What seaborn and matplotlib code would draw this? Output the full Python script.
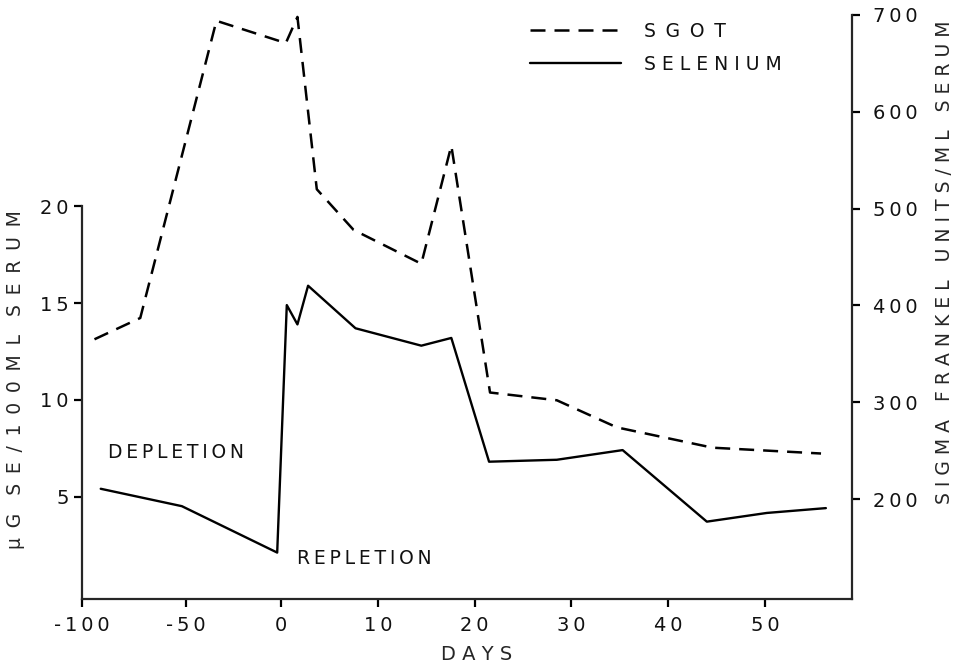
import numpy as np
import matplotlib
matplotlib.use("Agg")
import matplotlib.pyplot as plt
import seaborn as sns
from matplotlib.lines import Line2D

# Data
sel_days = [-91, -52, -2, 0.6, 1.7, 2.8, 7.7, 14.5, 17.6, 21.5, 28.5, 35.3, 44.0, 50.2, 56.3]
sel_vals = [5.4, 4.5, 2.1, 14.9, 13.9, 15.9, 13.7, 12.8, 13.2, 6.8, 6.9, 7.4, 3.7, 4.15, 4.4]

sgot_days = [-94, -72, -34, 0.5, 1.7, 3.7, 7.5, 14.5, 17.6, 21.6, 28.5, 34.7, 44.6, 50.2, 55.8]
sgot_vals = [365, 387, 694, 671, 698, 520, 478, 443, 565, 310, 302, 274, 253, 250, 247]

x_ticks = [-100, -50, 0, 10, 20, 30, 40, 50]
left_ticks = [5, 10, 15, 20]
right_ticks = [200, 300, 400, 500, 600, 700]

THIN = "\u2009"


def spaced(text, gap=THIN, word_gap="  "):
    # old hand-lettered look: wide letter spacing
    words = text.split(" ")
    return word_gap.join(gap.join(w) for w in words)


sns.set_style("ticks")
plt.rcParams['font.family'] = ['DejaVu Sans']
plt.rcParams['text.color'] = '#111111'

# depletion period is drawn compressed on the x axis
knot_days = [-1000, -100, -50, 0, 1000]
knot_pos = [-20.56 - 900 * (10.75 / 50), -20.56, -9.81, 0, 1000]


def fwd(x):
    return np.interp(x, knot_days, knot_pos)


def inv(u):
    return np.interp(u, knot_pos, knot_days)


fig = plt.figure(figsize=(9.6, 6.63), dpi=100)
ax = fig.add_axes([82 / 960, 64 / 663, 770 / 960, 584 / 663])
ax2 = ax.twinx()

sns.lineplot(x=sel_days, y=sel_vals, ax=ax, color='black', linewidth=1.7, sort=False)
sns.lineplot(x=sgot_days, y=sgot_vals, ax=ax2, color='black', linewidth=1.8,
             linestyle=(0, (6, 3.6)), sort=False)

ax.set_xscale('function', functions=(fwd, inv))
ax.set_xlim(-100, 59)
ax.set_ylim(-0.3, 29.9)
ax2.set_ylim(96.7, 700)

ax.set_xticks(x_ticks)
ax.set_xticklabels([spaced(str(t)) for t in x_ticks])
ax.set_yticks(left_ticks)
ax.set_yticklabels([spaced(str(t)) for t in left_ticks])
ax2.set_yticks(right_ticks)
ax2.set_yticklabels([spaced(str(t)) for t in right_ticks])

for a in (ax, ax2):
    a.tick_params(length=6, width=1.6, labelsize=14, colors='black', labelcolor='#111111')
    a.spines['top'].set_visible(False)
    for s in a.spines.values():
        s.set_linewidth(1.6)
ax.tick_params(axis='x', pad=6)
ax2.tick_params(axis='y', pad=9)
ax.spines['right'].set_visible(False)
ax2.spines['left'].set_visible(False)
ax2.spines['bottom'].set_visible(False)
ax.spines['left'].set_bounds(-0.3, 20)

ax.set_xlabel(spaced("DAYS", " "), fontsize=14)
ax.xaxis.set_label_coords(0.513, -0.078)
ax.set_ylabel(spaced("µG SE/100ML SERUM", " " + THIN, "   "), fontsize=13.5)
ax.yaxis.set_label_coords(-0.074, 0.375)
ax2.set_ylabel(spaced("SIGMA FRANKEL UNITS/ML SERUM", " ", "   "), fontsize=13.5)
ax2.yaxis.set_label_coords(1.108, 0.577)

ax.text(0.034, 0.25, spaced("DEPLETION"), transform=ax.transAxes, fontsize=13.5, va='center')
ax.text(0.279, 0.0685, spaced("REPLETION"), transform=ax.transAxes, fontsize=13.5, va='center')

handles = [Line2D([], [], color='black', lw=1.8, linestyle=(0, (6, 3.6))),
           Line2D([], [], color='black', lw=1.7)]
ax2.legend(handles, [spaced("SGOT", " " + THIN), spaced("SELENIUM", " ")], loc='upper left',
           bbox_to_anchor=(0.56, 1.017), frameon=False, fontsize=13.5,
           handlelength=4.85, handletextpad=1.2, labelspacing=0.75)

fig.savefig("out.png", dpi=100)
